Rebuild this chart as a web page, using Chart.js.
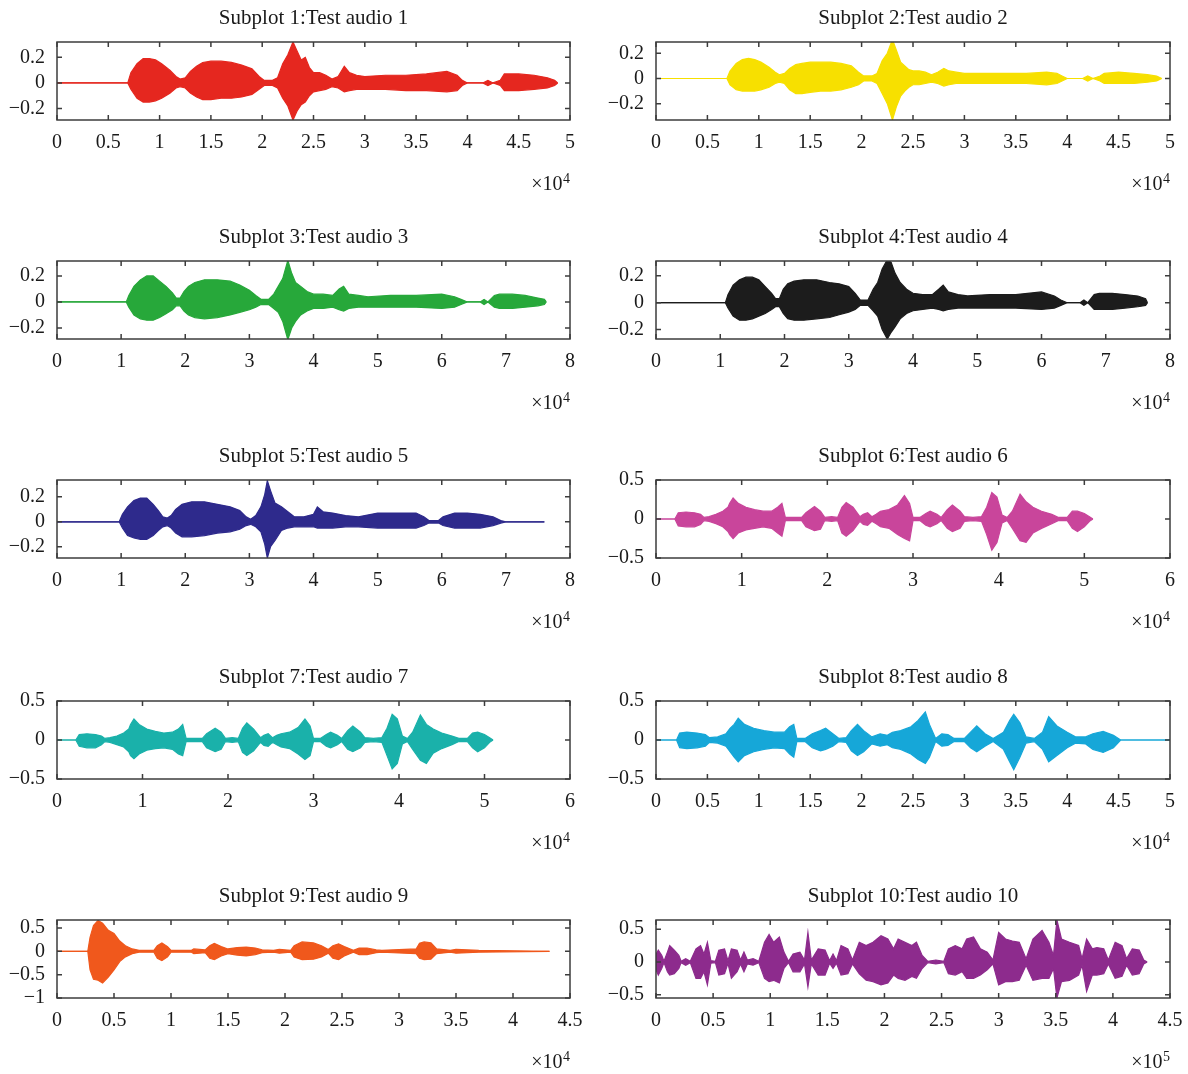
<!DOCTYPE html>
<html>
<head>
<meta charset="utf-8">
<script src="https://cdn.jsdelivr.net/npm/chart.js@4.4.1/dist/chart.umd.min.js"></script>
<style>
  body { margin: 0; background: #fff; width: 1188px; height: 1074px; position: relative; overflow: hidden; }
  canvas { position: absolute; }
</style>
</head>
<body>
<script>
// envelope of each test audio (x in units of the axis multiplier)
const x1 = [0, 0.69, 0.72, 0.78, 0.84, 0.9, 0.96, 1.02, 1.1, 1.16, 1.2, 1.25, 1.3, 1.36, 1.42, 1.5, 1.6, 1.7, 1.8, 1.9, 1.97, 2.02, 2.1, 2.15, 2.2, 2.25, 2.3, 2.34, 2.38, 2.42, 2.46, 2.5, 2.56, 2.62, 2.68, 2.74, 2.8, 2.85, 2.92, 3.0, 3.2, 3.4, 3.6, 3.8, 3.9, 3.95, 4.0, 4.15, 4.2, 4.25, 4.32, 4.36, 4.5, 4.65, 4.78, 4.85, 4.88];
const hi1 = [0, 0, 0.08, 0.15, 0.19, 0.19, 0.18, 0.15, 0.1, 0.05, 0.03, 0.04, 0.09, 0.13, 0.16, 0.17, 0.17, 0.16, 0.14, 0.11, 0.05, 0.02, 0.02, 0.04, 0.15, 0.22, 0.32, 0.25, 0.18, 0.2, 0.12, 0.08, 0.08, 0.06, 0.03, 0.05, 0.13, 0.08, 0.06, 0.05, 0.06, 0.06, 0.07, 0.09, 0.06, 0.02, 0, 0, 0.02, 0, 0.02, 0.07, 0.07, 0.06, 0.04, 0.02, 0];
const lo1 = [0, 0, -0.05, -0.12, -0.15, -0.15, -0.14, -0.12, -0.08, -0.04, -0.03, -0.04, -0.08, -0.11, -0.13, -0.13, -0.12, -0.12, -0.11, -0.09, -0.05, -0.02, -0.02, -0.04, -0.12, -0.18, -0.29, -0.22, -0.17, -0.15, -0.1, -0.07, -0.06, -0.05, -0.03, -0.04, -0.07, -0.06, -0.05, -0.05, -0.05, -0.06, -0.06, -0.07, -0.06, -0.02, 0, 0, -0.02, 0, -0.02, -0.06, -0.06, -0.05, -0.04, -0.02, 0];

const x2 = [0, 0.69, 0.72, 0.78, 0.84, 0.9, 0.96, 1.02, 1.1, 1.16, 1.2, 1.25, 1.3, 1.36, 1.42, 1.5, 1.6, 1.7, 1.8, 1.9, 1.97, 2.02, 2.1, 2.15, 2.2, 2.25, 2.3, 2.34, 2.38, 2.42, 2.46, 2.5, 2.56, 2.62, 2.68, 2.74, 2.8, 2.85, 2.92, 3.0, 3.2, 3.4, 3.6, 3.8, 3.9, 3.95, 4.0, 4.15, 4.2, 4.25, 4.32, 4.36, 4.5, 4.65, 4.78, 4.87, 4.92];
const hi2 = [0, 0, 0.06, 0.12, 0.15, 0.16, 0.15, 0.13, 0.09, 0.05, 0.03, 0.04, 0.08, 0.11, 0.12, 0.13, 0.13, 0.13, 0.12, 0.1, 0.05, 0.02, 0.02, 0.04, 0.14, 0.2, 0.31, 0.22, 0.13, 0.1, 0.07, 0.06, 0.06, 0.05, 0.03, 0.05, 0.08, 0.06, 0.05, 0.04, 0.04, 0.04, 0.04, 0.05, 0.04, 0.02, 0, 0, 0.02, 0, 0.02, 0.04, 0.05, 0.04, 0.03, 0.02, 0];
const lo2 = [0, 0, -0.05, -0.09, -0.1, -0.1, -0.1, -0.09, -0.07, -0.04, -0.03, -0.04, -0.09, -0.12, -0.12, -0.11, -0.1, -0.1, -0.09, -0.07, -0.05, -0.02, -0.02, -0.04, -0.12, -0.2, -0.33, -0.22, -0.14, -0.1, -0.07, -0.05, -0.05, -0.04, -0.03, -0.04, -0.06, -0.05, -0.04, -0.04, -0.04, -0.04, -0.04, -0.05, -0.04, -0.02, 0, 0, -0.02, 0, -0.02, -0.04, -0.04, -0.04, -0.03, -0.02, 0];

const x3 = [0, 1.08, 1.12, 1.2, 1.3, 1.4, 1.5, 1.6, 1.7, 1.8, 1.86, 1.92, 1.98, 2.05, 2.15, 2.3, 2.5, 2.7, 2.85, 3.0, 3.1, 3.18, 3.3, 3.38, 3.45, 3.52, 3.6, 3.66, 3.72, 3.8, 3.9, 4.0, 4.15, 4.3, 4.4, 4.47, 4.55, 4.7, 4.85, 5.2, 5.6, 6.0, 6.2, 6.3, 6.4, 6.6, 6.66, 6.72, 6.82, 6.9, 7.1, 7.3, 7.5, 7.6, 7.63];
const hi3 = [0, 0, 0.05, 0.12, 0.17, 0.2, 0.2, 0.16, 0.12, 0.07, 0.03, 0.03, 0.08, 0.12, 0.15, 0.17, 0.17, 0.16, 0.13, 0.09, 0.05, 0.02, 0.02, 0.06, 0.12, 0.18, 0.32, 0.22, 0.15, 0.12, 0.08, 0.06, 0.06, 0.05, 0.1, 0.12, 0.06, 0.05, 0.04, 0.05, 0.05, 0.06, 0.04, 0.02, 0, 0, 0.02, 0, 0.05, 0.06, 0.06, 0.05, 0.03, 0.02, 0];
const lo3 = [0, 0, -0.04, -0.1, -0.13, -0.14, -0.14, -0.12, -0.09, -0.06, -0.03, -0.03, -0.07, -0.1, -0.12, -0.13, -0.12, -0.1, -0.08, -0.06, -0.04, -0.02, -0.02, -0.05, -0.08, -0.15, -0.29, -0.2, -0.15, -0.1, -0.07, -0.05, -0.05, -0.04, -0.06, -0.07, -0.05, -0.04, -0.04, -0.04, -0.04, -0.05, -0.04, -0.02, 0, 0, -0.02, 0, -0.04, -0.05, -0.05, -0.04, -0.03, -0.02, 0];

const x4 = [0, 1.08, 1.12, 1.2, 1.3, 1.4, 1.5, 1.6, 1.7, 1.8, 1.86, 1.92, 1.98, 2.05, 2.15, 2.3, 2.5, 2.7, 2.85, 3.0, 3.1, 3.18, 3.3, 3.38, 3.45, 3.52, 3.6, 3.66, 3.72, 3.8, 3.9, 4.0, 4.15, 4.3, 4.4, 4.47, 4.55, 4.7, 4.85, 5.2, 5.6, 6.0, 6.2, 6.3, 6.4, 6.6, 6.66, 6.72, 6.82, 6.9, 7.1, 7.3, 7.5, 7.62, 7.65];
const hi4 = [0, 0, 0.06, 0.13, 0.17, 0.19, 0.19, 0.17, 0.12, 0.07, 0.03, 0.03, 0.1, 0.14, 0.16, 0.17, 0.17, 0.15, 0.14, 0.12, 0.07, 0.02, 0.02, 0.1, 0.15, 0.25, 0.32, 0.3, 0.22, 0.15, 0.1, 0.07, 0.06, 0.06, 0.1, 0.13, 0.08, 0.06, 0.05, 0.06, 0.06, 0.08, 0.05, 0.02, 0, 0, 0.02, 0, 0.06, 0.07, 0.07, 0.06, 0.05, 0.03, 0];
const lo4 = [0, 0, -0.04, -0.1, -0.13, -0.13, -0.12, -0.1, -0.08, -0.05, -0.03, -0.03, -0.08, -0.12, -0.13, -0.13, -0.12, -0.11, -0.09, -0.07, -0.05, -0.02, -0.02, -0.06, -0.1, -0.2, -0.27, -0.22, -0.18, -0.12, -0.08, -0.06, -0.05, -0.04, -0.05, -0.06, -0.05, -0.04, -0.04, -0.04, -0.04, -0.05, -0.04, -0.02, 0, 0, -0.02, 0, -0.05, -0.05, -0.05, -0.04, -0.03, -0.02, 0];

const x5 = [0, 0.97, 1.02, 1.1, 1.2, 1.3, 1.4, 1.5, 1.58, 1.65, 1.72, 1.78, 1.85, 1.95, 2.1, 2.3, 2.5, 2.7, 2.85, 2.95, 3.02, 3.1, 3.18, 3.24, 3.28, 3.33, 3.4, 3.5, 3.6, 3.7, 3.85, 4.0, 4.06, 4.15, 4.3, 4.5, 4.7, 5.0, 5.3, 5.6, 5.72, 5.8, 5.95, 6.02, 6.2, 6.4, 6.6, 6.8, 6.92, 7.0, 7.6];
const hi5 = [0, 0, 0.06, 0.12, 0.17, 0.19, 0.19, 0.14, 0.09, 0.04, 0.03, 0.05, 0.1, 0.14, 0.16, 0.16, 0.14, 0.12, 0.09, 0.04, 0.02, 0.05, 0.12, 0.22, 0.33, 0.25, 0.15, 0.12, 0.08, 0.04, 0.04, 0.06, 0.12, 0.08, 0.07, 0.05, 0.04, 0.07, 0.07, 0.07, 0.04, 0.01, 0.01, 0.04, 0.07, 0.07, 0.06, 0.04, 0.01, 0, 0];
const lo5 = [0, 0, -0.05, -0.11, -0.13, -0.14, -0.14, -0.11, -0.07, -0.04, -0.03, -0.05, -0.09, -0.12, -0.12, -0.11, -0.09, -0.08, -0.06, -0.03, -0.02, -0.04, -0.08, -0.18, -0.29, -0.2, -0.15, -0.07, -0.05, -0.04, -0.04, -0.04, -0.05, -0.05, -0.05, -0.04, -0.04, -0.05, -0.05, -0.05, -0.03, -0.01, -0.01, -0.03, -0.05, -0.05, -0.05, -0.03, -0.01, 0, 0];

const x6 = [0, 0.22, 0.26, 0.35, 0.45, 0.52, 0.56, 0.62, 0.7, 0.78, 0.84, 0.86, 0.9, 0.96, 1.05, 1.15, 1.25, 1.35, 1.42, 1.47, 1.51, 1.6, 1.7, 1.75, 1.85, 1.92, 1.97, 2.05, 2.12, 2.17, 2.22, 2.3, 2.38, 2.42, 2.47, 2.52, 2.57, 2.62, 2.72, 2.82, 2.9, 2.96, 3.0, 3.08, 3.15, 3.2, 3.28, 3.33, 3.4, 3.46, 3.55, 3.6, 3.7, 3.8, 3.86, 3.92, 3.98, 4.04, 4.1, 4.16, 4.25, 4.32, 4.4, 4.5, 4.62, 4.7, 4.8, 4.86, 4.92, 5.0, 5.06, 5.1];
const hi6 = [0, 0, 0.08, 0.09, 0.08, 0.06, 0.02, 0.03, 0.06, 0.1, 0.15, 0.2, 0.27, 0.2, 0.15, 0.12, 0.1, 0.1, 0.15, 0.2, 0.02, 0.02, 0.02, 0.08, 0.16, 0.1, 0.02, 0.03, 0.02, 0.15, 0.21, 0.15, 0.03, 0.06, 0.08, 0.03, 0.06, 0.1, 0.12, 0.18, 0.3, 0.2, 0.02, 0.02, 0.07, 0.1, 0.06, 0.02, 0.12, 0.18, 0.1, 0.03, 0.02, 0.03, 0.15, 0.34, 0.28, 0.05, 0.02, 0.1, 0.32, 0.22, 0.15, 0.1, 0.06, 0.02, 0.02, 0.1, 0.1, 0.07, 0.03, 0];
const lo6 = [0, 0, -0.09, -0.1, -0.1, -0.07, -0.02, -0.03, -0.06, -0.1, -0.16, -0.2, -0.25, -0.18, -0.14, -0.12, -0.1, -0.12, -0.18, -0.22, -0.02, -0.02, -0.02, -0.1, -0.15, -0.13, -0.02, -0.03, -0.02, -0.18, -0.22, -0.15, -0.03, -0.07, -0.08, -0.03, -0.06, -0.1, -0.12, -0.2, -0.25, -0.28, -0.02, -0.02, -0.08, -0.1, -0.06, -0.02, -0.12, -0.16, -0.12, -0.03, -0.02, -0.03, -0.2, -0.4, -0.3, -0.05, -0.02, -0.12, -0.28, -0.3, -0.18, -0.12, -0.06, -0.02, -0.02, -0.12, -0.16, -0.1, -0.03, 0];

const x7 = [0, 0.22, 0.26, 0.35, 0.45, 0.52, 0.56, 0.62, 0.7, 0.78, 0.84, 0.86, 0.9, 0.96, 1.05, 1.15, 1.25, 1.35, 1.42, 1.47, 1.51, 1.6, 1.7, 1.75, 1.85, 1.92, 1.97, 2.05, 2.12, 2.17, 2.22, 2.3, 2.38, 2.42, 2.47, 2.52, 2.57, 2.62, 2.72, 2.82, 2.9, 2.96, 3.0, 3.08, 3.15, 3.2, 3.28, 3.33, 3.4, 3.46, 3.55, 3.6, 3.7, 3.8, 3.86, 3.92, 3.98, 4.04, 4.1, 4.16, 4.25, 4.32, 4.4, 4.5, 4.62, 4.7, 4.8, 4.86, 4.92, 5.0, 5.06, 5.1];
const hi7 = [0, 0, 0.07, 0.08, 0.07, 0.05, 0.02, 0.03, 0.05, 0.09, 0.14, 0.2, 0.27, 0.2, 0.14, 0.11, 0.09, 0.1, 0.14, 0.2, 0.02, 0.02, 0.02, 0.08, 0.15, 0.1, 0.02, 0.03, 0.02, 0.15, 0.22, 0.14, 0.03, 0.06, 0.08, 0.03, 0.06, 0.08, 0.1, 0.16, 0.27, 0.18, 0.02, 0.02, 0.07, 0.1, 0.06, 0.02, 0.12, 0.18, 0.1, 0.03, 0.02, 0.03, 0.15, 0.33, 0.27, 0.05, 0.02, 0.1, 0.32, 0.2, 0.14, 0.09, 0.05, 0.02, 0.02, 0.09, 0.1, 0.07, 0.03, 0];
const lo7 = [0, 0, -0.08, -0.1, -0.1, -0.06, -0.02, -0.03, -0.06, -0.09, -0.15, -0.2, -0.24, -0.18, -0.13, -0.11, -0.1, -0.12, -0.18, -0.2, -0.02, -0.02, -0.02, -0.1, -0.15, -0.12, -0.02, -0.03, -0.02, -0.16, -0.2, -0.14, -0.03, -0.07, -0.08, -0.03, -0.06, -0.09, -0.11, -0.18, -0.25, -0.2, -0.02, -0.02, -0.08, -0.1, -0.06, -0.02, -0.12, -0.15, -0.1, -0.03, -0.02, -0.03, -0.2, -0.37, -0.3, -0.05, -0.02, -0.12, -0.26, -0.3, -0.17, -0.11, -0.06, -0.02, -0.02, -0.1, -0.15, -0.1, -0.03, 0];

const x8 = [0, 0.2, 0.23, 0.3, 0.4, 0.48, 0.52, 0.6, 0.68, 0.72, 0.76, 0.8, 0.86, 0.95, 1.05, 1.15, 1.25, 1.3, 1.34, 1.37, 1.45, 1.52, 1.6, 1.65, 1.72, 1.78, 1.85, 1.9, 1.96, 2.02, 2.1, 2.18, 2.25, 2.3, 2.38, 2.48, 2.55, 2.62, 2.66, 2.72, 2.78, 2.84, 2.9, 3.0, 3.06, 3.12, 3.2, 3.28, 3.38, 3.44, 3.48, 3.54, 3.6, 3.68, 3.76, 3.82, 3.9, 4.0, 4.08, 4.18, 4.25, 4.35, 4.45, 4.52, 5.0];
const hi8 = [0, 0, 0.09, 0.1, 0.09, 0.07, 0.03, 0.04, 0.08, 0.15, 0.2, 0.28, 0.2, 0.15, 0.12, 0.1, 0.1, 0.17, 0.2, 0.02, 0.02, 0.08, 0.12, 0.15, 0.08, 0.02, 0.03, 0.12, 0.2, 0.12, 0.04, 0.08, 0.06, 0.1, 0.12, 0.17, 0.25, 0.36, 0.2, 0.02, 0.08, 0.07, 0.02, 0.02, 0.1, 0.18, 0.08, 0.02, 0.1, 0.25, 0.33, 0.22, 0.04, 0.02, 0.1, 0.3, 0.18, 0.1, 0.04, 0.04, 0.08, 0.11, 0.06, 0, 0];
const lo8 = [0, 0, -0.1, -0.11, -0.1, -0.08, -0.03, -0.04, -0.08, -0.15, -0.22, -0.28, -0.2, -0.15, -0.12, -0.1, -0.11, -0.18, -0.22, -0.02, -0.02, -0.1, -0.14, -0.12, -0.08, -0.02, -0.03, -0.14, -0.2, -0.15, -0.05, -0.08, -0.06, -0.1, -0.12, -0.18, -0.25, -0.3, -0.22, -0.02, -0.08, -0.07, -0.02, -0.02, -0.1, -0.15, -0.08, -0.02, -0.12, -0.28, -0.38, -0.22, -0.04, -0.02, -0.12, -0.28, -0.2, -0.1, -0.04, -0.05, -0.12, -0.16, -0.1, 0, 0];

const x9 = [0, 0.27, 0.29, 0.32, 0.36, 0.4, 0.45, 0.5, 0.55, 0.6, 0.66, 0.72, 0.85, 0.88, 0.92, 0.97, 1.0, 1.18, 1.2, 1.3, 1.34, 1.38, 1.44, 1.5, 1.58, 1.66, 1.74, 1.8, 1.9, 1.95, 2.05, 2.08, 2.15, 2.25, 2.32, 2.38, 2.42, 2.47, 2.52, 2.6, 2.65, 2.72, 2.8, 2.85, 3.15, 3.18, 3.22, 3.28, 3.33, 3.45, 3.5, 3.7, 4.32];
const hi9 = [0, 0, 0.3, 0.55, 0.66, 0.6, 0.45, 0.38, 0.22, 0.12, 0.05, 0.02, 0.02, 0.12, 0.18, 0.1, 0.02, 0.02, 0.05, 0.03, 0.12, 0.17, 0.1, 0.05, 0.08, 0.09, 0.07, 0.03, 0.02, 0.04, 0.02, 0.12, 0.2, 0.18, 0.12, 0.04, 0.12, 0.16, 0.1, 0.02, 0.07, 0.07, 0.03, 0.02, 0.05, 0.17, 0.2, 0.18, 0.05, 0.02, 0.04, 0.02, 0];
const lo9 = [0, 0, -0.4, -0.6, -0.62, -0.68, -0.55, -0.4, -0.22, -0.12, -0.05, -0.02, -0.02, -0.15, -0.2, -0.12, -0.02, -0.02, -0.05, -0.03, -0.15, -0.18, -0.1, -0.05, -0.08, -0.1, -0.07, -0.03, -0.02, -0.04, -0.02, -0.12, -0.18, -0.17, -0.12, -0.04, -0.15, -0.18, -0.1, -0.02, -0.07, -0.07, -0.03, -0.02, -0.05, -0.15, -0.18, -0.17, -0.05, -0.02, -0.04, -0.02, 0];

const x10 = [0, 0.02, 0.05, 0.07, 0.1, 0.12, 0.16, 0.2, 0.22, 0.26, 0.3, 0.35, 0.39, 0.42, 0.45, 0.48, 0.52, 0.55, 0.6, 0.63, 0.66, 0.71, 0.74, 0.77, 0.8, 0.85, 0.9, 0.95, 0.99, 1.03, 1.08, 1.12, 1.16, 1.2, 1.26, 1.3, 1.33, 1.36, 1.42, 1.48, 1.52, 1.55, 1.58, 1.62, 1.68, 1.72, 1.78, 1.84, 1.9, 1.97, 2.03, 2.08, 2.12, 2.18, 2.24, 2.28, 2.33, 2.38, 2.45, 2.52, 2.56, 2.62, 2.68, 2.72, 2.78, 2.84, 2.9, 2.95, 3.0, 3.06, 3.12, 3.18, 3.24, 3.3, 3.38, 3.44, 3.48, 3.51, 3.55, 3.62, 3.7, 3.73, 3.77, 3.82, 3.86, 3.92, 3.96, 4.02, 4.08, 4.12, 4.17, 4.23, 4.27, 4.3];
const hi10 = [0.12, 0.18, 0.1, 0.01, 0.15, 0.25, 0.18, 0.1, 0.01, 0.05, 0.01, 0.2, 0.25, 0.12, 0.3, 0.02, 0.01, 0.18, 0.2, 0.02, 0.2, 0.18, 0.03, 0.15, 0.03, 0.05, 0.01, 0.3, 0.42, 0.3, 0.38, 0.15, 0.01, 0.12, 0.15, 0.03, 0.45, 0.03, 0.2, 0.18, 0.02, 0.12, 0.02, 0.25, 0.2, 0.03, 0.3, 0.25, 0.3, 0.4, 0.35, 0.2, 0.35, 0.3, 0.25, 0.3, 0.1, 0.01, 0.03, 0.01, 0.2, 0.25, 0.2, 0.35, 0.38, 0.2, 0.15, 0.03, 0.45, 0.35, 0.32, 0.3, 0.05, 0.35, 0.48, 0.3, 0.1, 0.64, 0.35, 0.3, 0.25, 0.05, 0.35, 0.2, 0.22, 0.2, 0.03, 0.3, 0.25, 0.05, 0.2, 0.18, 0.03, 0];
const lo10 = [-0.12, -0.2, -0.1, -0.01, -0.15, -0.2, -0.18, -0.1, -0.01, -0.05, -0.01, -0.25, -0.25, -0.15, -0.35, -0.02, -0.01, -0.2, -0.18, -0.02, -0.25, -0.15, -0.03, -0.15, -0.03, -0.05, -0.01, -0.25, -0.3, -0.28, -0.32, -0.1, -0.01, -0.15, -0.15, -0.03, -0.38, -0.03, -0.2, -0.2, -0.02, -0.1, -0.02, -0.2, -0.18, -0.03, -0.18, -0.28, -0.3, -0.35, -0.32, -0.2, -0.25, -0.28, -0.22, -0.25, -0.1, -0.01, -0.03, -0.01, -0.18, -0.2, -0.15, -0.25, -0.25, -0.2, -0.12, -0.03, -0.35, -0.3, -0.3, -0.28, -0.05, -0.28, -0.25, -0.25, -0.1, -0.55, -0.3, -0.28, -0.2, -0.05, -0.45, -0.2, -0.2, -0.18, -0.03, -0.25, -0.22, -0.05, -0.2, -0.18, -0.03, 0];

// tick labels and axis limits
const xTicks5 = [0, 0.5, 1, 1.5, 2, 2.5, 3, 3.5, 4, 4.5, 5];
const xTicks8 = [0, 1, 2, 3, 4, 5, 6, 7, 8];
const xTicks6 = [0, 1, 2, 3, 4, 5, 6];
const xTicks45 = [0, 0.5, 1, 1.5, 2, 2.5, 3, 3.5, 4, 4.5];
const yTicksSmall = [-0.2, 0, 0.2];
const yTicksHalf = [-0.5, 0, 0.5];
const yTicks9 = [-1, -0.5, 0, 0.5];
const yLim = [[-0.29, 0.32], [-0.33, 0.29], [-0.285, 0.315], [-0.27, 0.31], [-0.29, 0.335],
              [-0.5, 0.5], [-0.5, 0.5], [-0.5, 0.5], [-1, 0.67], [-0.55, 0.64]];

const SERIF = '"Liberation Serif", "DejaVu Serif", serif';
const INK = '#1a1a1a';
const ROW_TOPS = [0, 219, 438, 659, 878];

function fmt(v) {
    return v < 0 ? '\u2212' + Math.abs(v) : String(v);
}

// MATLAB style box with inward ticks on all four sides, plus the x10^n multiplier
const boxTicks = {
    id: 'boxTicks',
    afterDatasetsDraw(chart) {
        const { ctx, chartArea: a, scales: { x, y } } = chart;
        ctx.save();
        ctx.strokeStyle = '#3c3c3c';
        ctx.lineWidth = 1.5;
        ctx.beginPath();
        x.ticks.forEach(t => {
            const px = x.getPixelForValue(t.value);
            ctx.moveTo(px, a.bottom); ctx.lineTo(px, a.bottom - 5);
            ctx.moveTo(px, a.top); ctx.lineTo(px, a.top + 5);
        });
        y.ticks.forEach(t => {
            const py = y.getPixelForValue(t.value);
            ctx.moveTo(a.left, py); ctx.lineTo(a.left + 5, py);
            ctx.moveTo(a.right, py); ctx.lineTo(a.right - 5, py);
        });
        ctx.stroke();
        ctx.strokeRect(a.left, a.top, a.right - a.left, a.bottom - a.top);
        ctx.restore();
    },
    afterDraw(chart, args, opts) {
        const { ctx, chartArea: a } = chart;
        ctx.save();
        ctx.fillStyle = INK;
        ctx.textAlign = 'right';
        ctx.textBaseline = 'alphabetic';
        ctx.font = '14px ' + SERIF;
        const ew = ctx.measureText(opts.power).width;
        ctx.fillText(opts.power, a.right, a.bottom + 63);
        ctx.font = '20px ' + SERIF;
        ctx.fillText('\u00d710', a.right - ew - 0.5, a.bottom + 70);
        ctx.restore();
    }
};

function generateWave(n, xs, hi, lo, color, xTicks, yTicks, power) {
    const col = (n - 1) % 2, row = Math.floor((n - 1) / 2);
    const cv = document.createElement('canvas');
    cv.width = col ? 588 : 600;
    cv.height = 200;
    cv.style.left = (col ? 600 : 0) + 'px';
    cv.style.top = ROW_TOPS[row] + 'px';
    document.body.appendChild(cv);

    const upper = xs.map((x, i) => ({ x: x, y: hi[i] }));
    const lower = xs.map((x, i) => ({ x: x, y: lo[i] }));
    const font = { family: SERIF, size: 20, weight: 'normal' };

    new Chart(cv.getContext('2d'), {
        type: 'line',
        data: {
            datasets: [
                { data: upper, borderColor: color, backgroundColor: color, borderWidth: 1.2, pointRadius: 0, tension: 0, fill: '+1' },
                { data: lower, borderColor: color, borderWidth: 1.2, pointRadius: 0, tension: 0, fill: false }
            ]
        },
        options: {
            responsive: false,
            animation: false,
            events: [],
            layout: { padding: { left: 0, right: col ? 18 : 30, top: 0, bottom: 0 } },
            plugins: {
                legend: { display: false },
                tooltip: { enabled: false },
                title: {
                    display: true,
                    text: 'Subplot ' + n + ':Test audio ' + n,
                    fullSize: false,
                    color: INK,
                    font: { family: SERIF, size: 21, weight: 'normal' },
                    padding: { top: 6, bottom: 10.8 }
                },
                boxTicks: { power: power }
            },
            scales: {
                x: {
                    type: 'linear',
                    min: 0,
                    max: xTicks[xTicks.length - 1],
                    grid: { display: false, drawTicks: false },
                    border: { display: false },
                    afterBuildTicks: s => { s.ticks = xTicks.map(v => ({ value: v })); },
                    afterFit: s => { s.height = 80; s.paddingLeft = 0; s.paddingRight = 0; },
                    ticks: { color: INK, font: font, padding: 11, maxRotation: 0, autoSkip: false, callback: v => fmt(v) }
                },
                y: {
                    min: yLim[n - 1][0],
                    max: yLim[n - 1][1],
                    grid: { display: false, drawTicks: false },
                    border: { display: false },
                    afterBuildTicks: s => { s.ticks = yTicks.map(v => ({ value: v })); },
                    afterFit: s => { s.width = col ? 56 : 57; },
                    ticks: { color: INK, font: font, padding: 12, autoSkip: false, callback: v => fmt(v) }
                }
            }
        },
        plugins: [boxTicks]
    });
}

generateWave(1, x1, hi1, lo1, '#e5271f', xTicks5, yTicksSmall, '4');
generateWave(2, x2, hi2, lo2, '#f7e000', xTicks5, yTicksSmall, '4');
generateWave(3, x3, hi3, lo3, '#27a83a', xTicks8, yTicksSmall, '4');
generateWave(4, x4, hi4, lo4, '#1c1c1c', xTicks8, yTicksSmall, '4');
generateWave(5, x5, hi5, lo5, '#2e2a8c', xTicks8, yTicksSmall, '4');
generateWave(6, x6, hi6, lo6, '#c9459b', xTicks6, yTicksHalf, '4');
generateWave(7, x7, hi7, lo7, '#1ab1aa', xTicks6, yTicksHalf, '4');
generateWave(8, x8, hi8, lo8, '#16a7d8', xTicks5, yTicksHalf, '4');
generateWave(9, x9, hi9, lo9, '#f0581c', xTicks45, yTicks9, '4');
generateWave(10, x10, hi10, lo10, '#8d2b8d', xTicks45, yTicksHalf, '5');
</script>
</body>
</html>
